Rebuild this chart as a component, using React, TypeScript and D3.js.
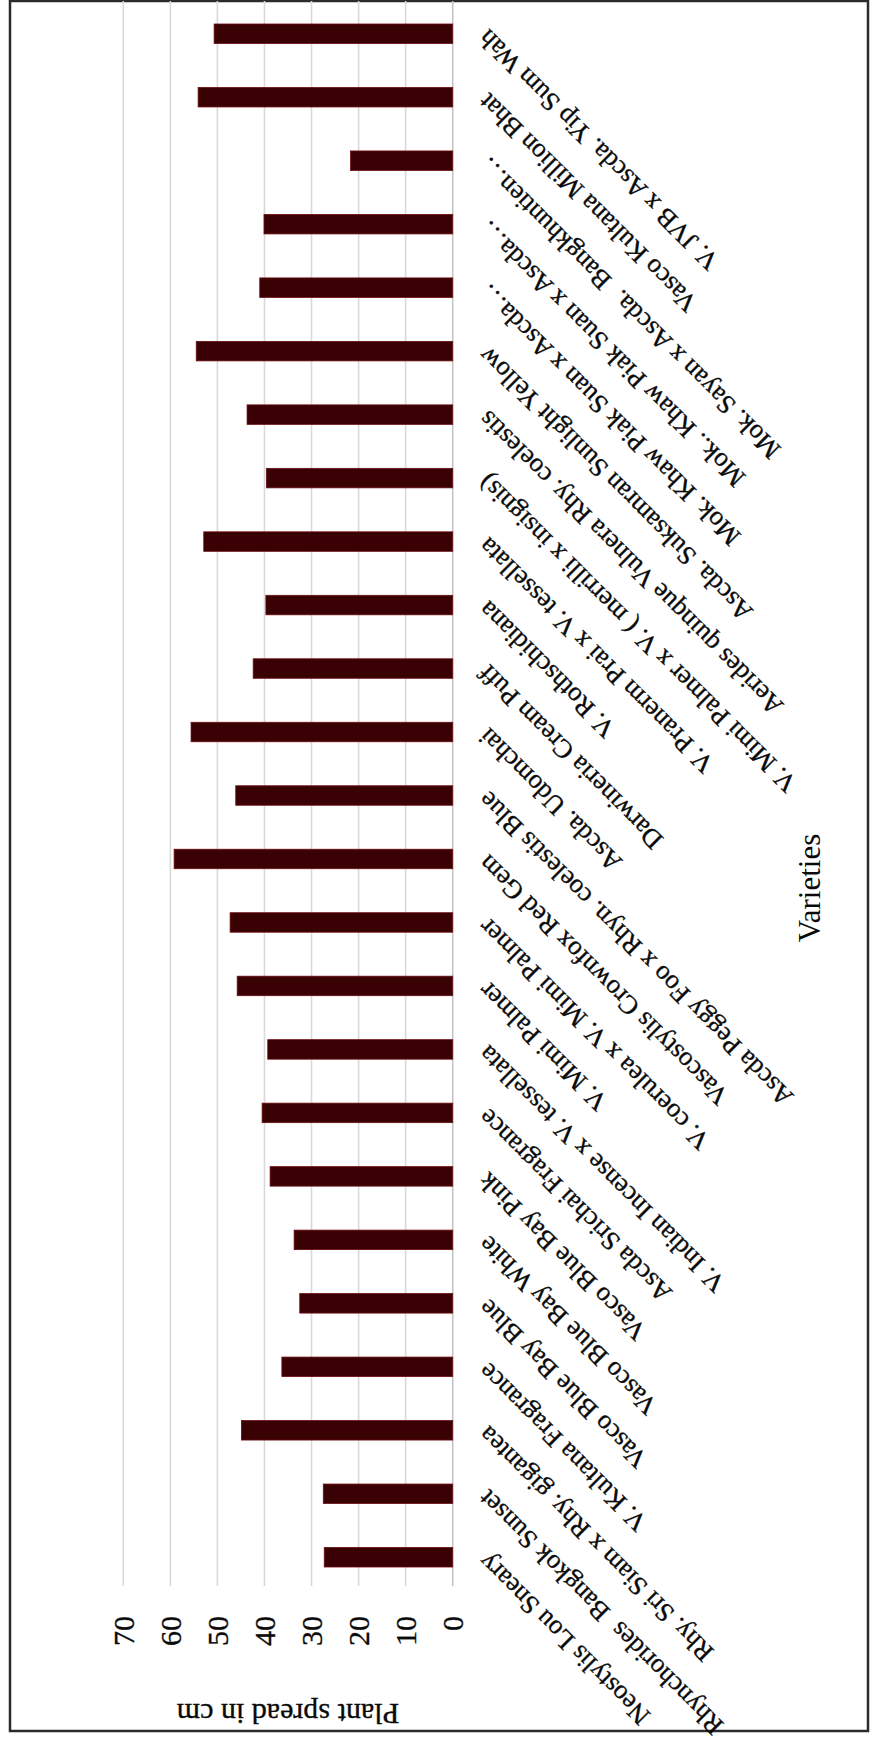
import React from "react";
import * as d3 from "d3";

// Orchid varieties (left-to-right in the column chart) and their plant spread (cm)
const categories: string[] = [
  "Neostylis Lou Sneary",
  "Rhynchorides  Bangkok Sunset",
  "Rhy. Sri Siam x Rhy. gigantea",
  "V. Kultana Fragrance",
  "Vasco Blue Bay Blue",
  "Vasco Blue Bay White",
  "Vasco Blue Bay Pink",
  "Ascda Srichai Fragrance",
  "V. Indian Incense x V. tessellata",
  "V. Mimi Palmer",
  "V. coerulea x V. Mimi Palmer",
  "Vascostylis Crownfox Red Gem",
  "Ascda Peggy Foo x Rhyn. coelestis Blue",
  "Ascda. Udomchai",
  "Darwineria Cream Puff",
  "V. Rothschidiana",
  "V. Pranerm Prai x V. tessellata",
  "V. Mimi Palmer x V. ( merrilli x insignis)",
  "Aerides quinque Vulnera Rhy. coelestis",
  "Ascda. Suksamran Sunlight Yellow",
  "Mok. Khaw Piak Suan x Ascda…",
  "Mok.. Khaw Piak Suan x Ascda…",
  "Mok. Sayan x Ascda.  Bangkhuntien…",
  "Vasco Kultana Million Bhat",
  "V. JVB x Ascda. Yip Sum Wah",
];

const spread: number[] = [
  27.3, 27.5, 44.9, 36.3, 32.5, 33.7, 38.8, 40.5, 39.3, 45.8, 47.3, 59.2, 46.1,
  55.6, 42.4, 39.7, 52.9, 39.6, 43.7, 54.5, 41.0, 40.1, 21.7, 54.1, 50.7,
];

const valueTicks: number[] = [0, 10, 20, 30, 40, 50, 60, 70];

const yTitle = "Plant spread in cm";
const xTitle = "Varieties";

// The chart is laid out as an ordinary column chart (W x H) and then turned
// a quarter turn counter-clockwise onto the 875 x 1744 page.
const PAGE_W = 875;
const PAGE_H = 1744;

const SERIF = "'Liberation Serif', 'Times New Roman', serif";
const INK = "#0a0a0a";

export default function App() {
  const x = d3
    .scaleBand<string>()
    .domain(categories)
    .range([155, 1742])
    .paddingInner(0.693)
    .paddingOuter(0.3465);

  const y = d3.scaleLinear().domain([0, 70]).range([452.7, 123.3]);

  const gridX0 = 158;
  const gridX1 = 1743;

  const textStyle = {
    fontFamily: SERIF,
    fill: INK,
    stroke: INK,
    strokeWidth: 0.35,
  } as const;

  return (
    <svg
      width={PAGE_W}
      height={PAGE_H}
      style={{ position: "absolute", left: 0, top: 0, display: "block" }}
    >
      <rect width={PAGE_W} height={PAGE_H} fill="#ffffff" />
      <g transform={`translate(0,${PAGE_H}) rotate(-90)`}>
        {/* outer chart border */}
        <rect
          x={13}
          y={10}
          width={1730}
          height={858}
          fill="none"
          stroke="#2b2b2b"
          strokeWidth={2.5}
        />

        {/* horizontal gridlines */}
        {valueTicks.map((t) => (
          <line
            key={`g${t}`}
            x1={gridX0}
            x2={gridX1}
            y1={y(t)}
            y2={y(t)}
            stroke={t === 0 ? "#c4c4c4" : "#d9d9d9"}
            strokeWidth={1.6}
          />
        ))}

        {/* bars */}
        {categories.map((c, i) => (
          <rect
            key={c}
            x={x(c)!}
            width={x.bandwidth()}
            y={y(spread[i])}
            height={y(0) - y(spread[i])}
            fill="#390104"
            stroke="#6e0c10"
            strokeWidth={0.8}
          />
        ))}

        {/* value tick labels */}
        {valueTicks.map((t) => (
          <text
            key={`t${t}`}
            x={128}
            y={y(t)}
            textAnchor="end"
            dominantBaseline="central"
            fontSize={30}
            {...textStyle}
          >
            {t}
          </text>
        ))}

        {/* category labels, slanted */}
        {categories.map((c) => {
          const cx = x(c)! + x.bandwidth() / 2 + 5.5;
          const cy = 489;
          return (
            <text
              key={`l${c}`}
              transform={`translate(${cx},${cy}) rotate(-45)`}
              textAnchor="end"
              fontSize={26.5}
              style={{ whiteSpace: "pre" }}
              {...textStyle}
            >
              {c}
            </text>
          );
        })}

        {/* axis titles */}
        <text
          transform={`translate(40,${(y(0) + y(70)) / 2}) rotate(-90)`}
          textAnchor="middle"
          fontSize={30}
          {...textStyle}
        >
          {yTitle}
        </text>
        <text
          x={856}
          y={820}
          textAnchor="middle"
          fontSize={31}
          {...textStyle}
          strokeWidth={0}
        >
          {xTitle}
        </text>
      </g>
    </svg>
  );
}
